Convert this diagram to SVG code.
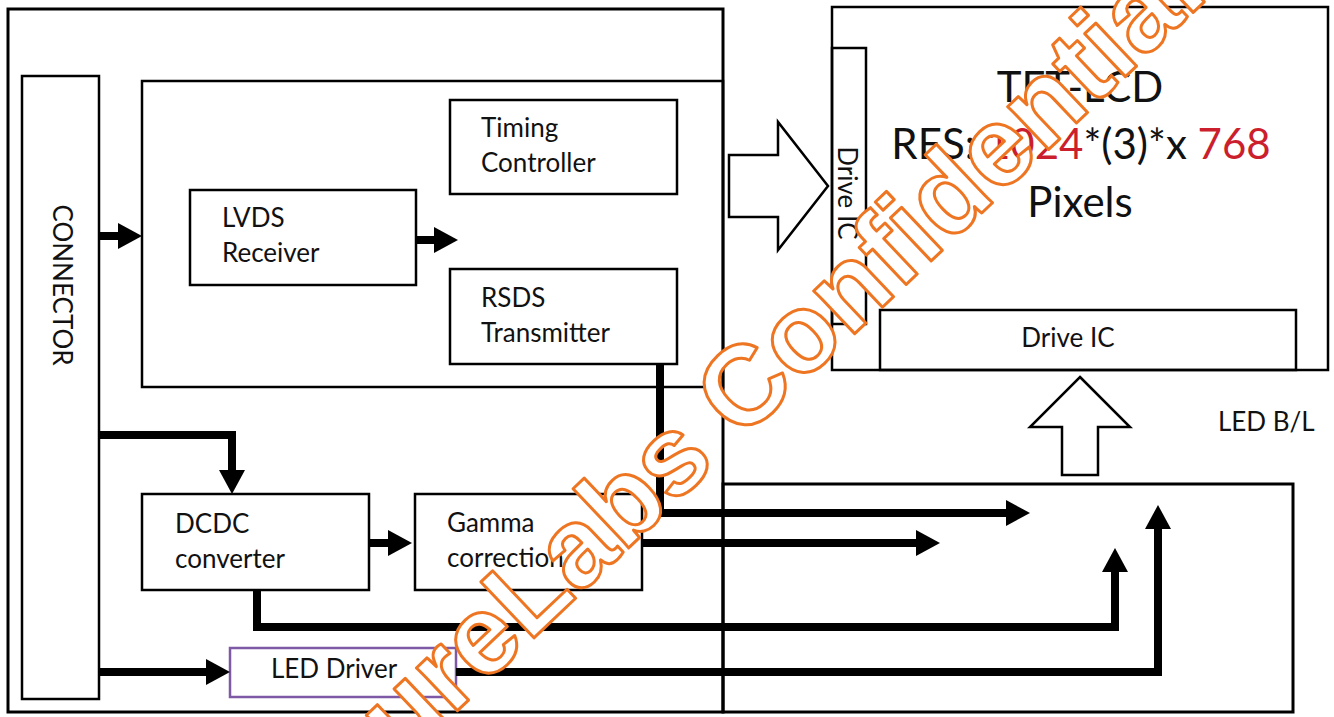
<svg xmlns="http://www.w3.org/2000/svg" width="1334" height="717" viewBox="0 0 1334 717">
<style>
  .bx{fill:none;stroke:#000;stroke-width:2.5}
  .ob{fill:none;stroke:#000;stroke-width:3}
  .t{font-family:Lato,"Open Sans","Liberation Sans",sans-serif;font-size:26px;fill:#111}
  .big{font-family:Lato,"Open Sans","Liberation Sans",sans-serif;font-size:42px;fill:#111}
  .red{fill:#CC1F2D}
  .c{fill:none;stroke:#000;stroke-width:8;stroke-linejoin:miter}
  .hollow{fill:#fff;stroke:#000;stroke-width:2.5;stroke-linejoin:miter}
  .wm{font-family:"Liberation Sans",Arial,sans-serif;font-weight:bold;font-size:112px;fill:#fff;stroke:#EE7623;stroke-width:3;stroke-linejoin:round}
</style>
<defs>
  <marker id="ah" markerUnits="userSpaceOnUse" markerWidth="24" markerHeight="26" refX="8" refY="13" orient="auto" overflow="visible">
    <path d="M0,0 L24,13 L0,26 Z" fill="#000"/>
  </marker>
</defs>
<rect width="1334" height="717" fill="#fff"/>

<g id="board">
  <rect class="ob" x="8" y="9" width="715" height="703"/>
</g>
<g id="tcon-area">
  <rect class="bx" x="142" y="81" width="581" height="306"/>
</g>
<g id="connector">
  <rect class="bx" x="22" y="76" width="77" height="623"/>
  <text class="t" transform="translate(53,285) rotate(90)" text-anchor="middle">CONNECTOR</text>
</g>
<g id="timing">
  <rect class="bx" x="450" y="100" width="227" height="94"/>
  <text class="t" x="481" y="137">Timing</text>
  <text class="t" x="481" y="172">Controller</text>
</g>
<g id="lvds">
  <rect class="bx" x="190" y="190" width="226" height="95"/>
  <text class="t" x="222" y="227">LVDS</text>
  <text class="t" x="222" y="262">Receiver</text>
</g>
<g id="rsds">
  <rect class="bx" x="450" y="269" width="227" height="95"/>
  <text class="t" x="481" y="307">RSDS</text>
  <text class="t" x="481" y="342">Transmitter</text>
</g>
<g id="dcdc">
  <rect class="bx" x="142" y="494" width="227" height="96"/>
  <text class="t" x="175" y="533">DCDC</text>
  <text class="t" x="175" y="568">converter</text>
</g>
<g id="gamma">
  <rect class="bx" x="415" y="494" width="227" height="96"/>
  <text class="t" x="447" y="532">Gamma</text>
  <text class="t" x="447" y="567">correction</text>
</g>
<g id="led-driver">
  <rect x="230" y="648" width="226" height="49" fill="none" stroke="#7E5AA6" stroke-width="2.5"/>
  <text class="t" x="334" y="678" text-anchor="middle">LED Driver</text>
</g>
<g id="tft-lcd">
  <rect class="bx" x="832" y="7" width="496" height="363"/>
  <text class="big" x="1080" y="102" text-anchor="middle">TFT-LCD</text>
  <text class="big" x="1081" y="159" text-anchor="middle">RES: <tspan class="red">1024</tspan>*(3)*x <tspan class="red">768</tspan></text>
  <text class="big" x="1080" y="217" text-anchor="middle">Pixels</text>
</g>
<g id="drive-ic-v">
  <rect class="bx" x="832" y="48" width="34" height="276"/>
  <text class="t" transform="translate(838,193) rotate(90)" text-anchor="middle">Drive IC</text>
</g>
<g id="drive-ic-h">
  <rect class="bx" x="880" y="310" width="416" height="60"/>
  <text class="t" x="1068" y="347" text-anchor="middle">Drive IC</text>
</g>
<g id="backlight">
  <rect class="ob" x="723" y="484" width="570" height="228"/>
  <text class="t" x="1218" y="431">LED B/L</text>
</g>
<g id="arrow-to-panel">
  <polygon class="hollow" points="729,155 778,155 778,122 828,186 778,250 778,217 729,217"/>
</g>
<g id="arrow-up">
  <polygon class="hollow" points="1080,377 1130,427 1098,427 1098,475 1062,475 1062,427 1030,427"/>
</g>

<g id="connectors">
  <path class="c" d="M99,236 H126" marker-end="url(#ah)"/>
  <path class="c" d="M416,240 H442" marker-end="url(#ah)"/>
  <path class="c" d="M99,435 H232 V478" marker-end="url(#ah)"/>
  <path class="c" d="M369,543 H396" marker-end="url(#ah)"/>
  <path class="c" d="M660,364 V513 H1014" marker-end="url(#ah)"/>
  <path class="c" d="M642,543 H924" marker-end="url(#ah)"/>
  <path class="c" d="M257,590 V627 H1115 V564" marker-end="url(#ah)"/>
  <path class="c" d="M456,672 H1158 V521" marker-end="url(#ah)"/>
  <path class="c" d="M99,672 H214" marker-end="url(#ah)"/>
</g>

<g id="watermark">
  <text class="wm" transform="translate(402,763) rotate(-43.5)">ureLabs Confidential</text>
</g>
</svg>
